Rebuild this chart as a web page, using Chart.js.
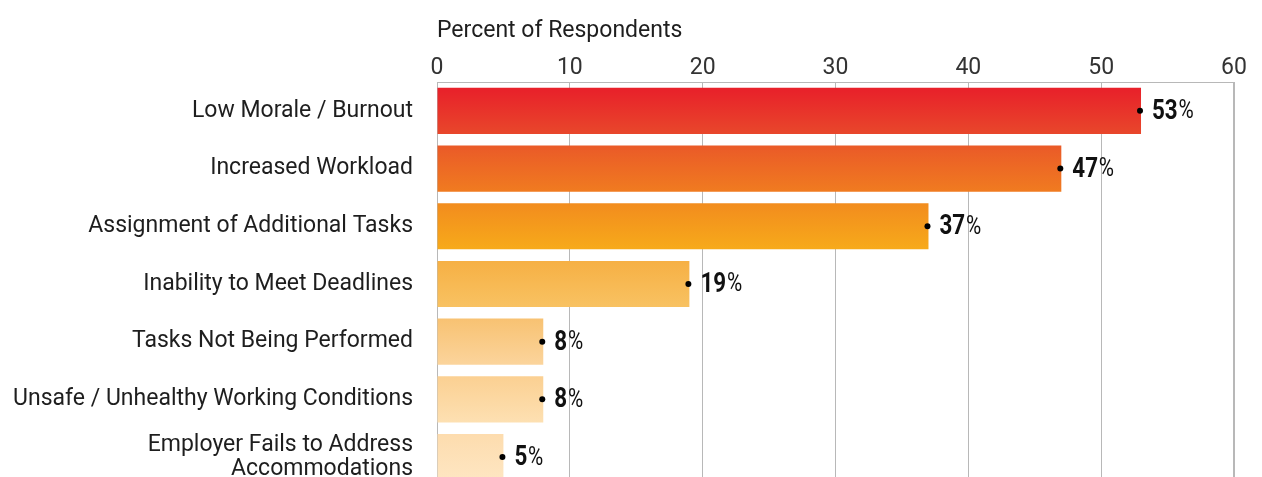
<!DOCTYPE html>
<html>
<head>
<meta charset="utf-8">
<script src="https://cdn.jsdelivr.net/npm/chart.js@4.4.1/dist/chart.umd.min.js"></script>
<style>
  html, body { margin: 0; padding: 0; background: #fff; overflow: hidden; }
  #wrap { width: 1262px; height: 522px; }
</style>
</head>
<body>
<div id="wrap"><canvas id="impact-chart" width="1262" height="522"></canvas></div>
<script>
const categories = [
    'Low Morale / Burnout',
    'Increased Workload',
    'Assignment of Additional Tasks',
    'Inability to Meet Deadlines',
    'Tasks Not Being Performed',
    'Unsafe / Unhealthy Working Conditions',
    ['Employer Fails to Address', 'Accommodations']
];
const percents = [53, 47, 37, 19, 8, 8, 5];
const topColors = ['#e8202a', '#ea5a28', '#f28c1e', '#f6b044', '#f8c272', '#fbd092', '#fddcae'];
const bottomColors = ['#e8472b', '#f07b20', '#f7aa1a', '#f8c262', '#fbd49c', '#fde0b2', '#fee6c2'];

const textColor = '#1e1e1e';
const gridColor = '#b8b8b8';

// vertical gradient per bar, from the band of each category
function barFill(context) {
    const chart = context.chart;
    const i = context.dataIndex;
    if (!chart.chartArea || !chart.scales.y) return topColors[i];
    const y = chart.scales.y;
    const center = y.getPixelForValue(i);
    const half = 23;
    const g = chart.ctx.createLinearGradient(0, center - half, 0, center + half);
    g.addColorStop(0, topColors[i]);
    g.addColorStop(1, bottomColors[i]);
    return g;
}

// dot at the end of each bar followed by the value, "%" in lighter weight
const valueLabels = {
    id: 'valueLabels',
    afterDatasetsDraw(chart) {
        const ctx = chart.ctx;
        const meta = chart.getDatasetMeta(0);
        ctx.save();
        meta.data.forEach((bar, i) => {
            const x = bar.x;
            const y = bar.y;
            ctx.fillStyle = '#000';
            ctx.beginPath();
            ctx.arc(x - 1, y, 3, 0, Math.PI * 2);
            ctx.fill();

            ctx.save();
            ctx.translate(x + 11, y);
            ctx.scale(0.8, 1);
            ctx.textBaseline = 'middle';
            ctx.textAlign = 'left';
            ctx.fillStyle = '#111';
            ctx.font = 'bold 28px Roboto';
            const num = String(percents[i]);
            ctx.fillText(num, 0, 1);
            const w = ctx.measureText(num).width;
            ctx.font = '26px Roboto';
            ctx.fillText('%', w + 1, 1);
            ctx.restore();
        });
        ctx.restore();
    }
};

new Chart(document.getElementById('impact-chart'), {
    type: 'bar',
    data: {
        labels: categories,
        datasets: [{
            data: percents,
            backgroundColor: barFill,
            borderWidth: 0,
            categoryPercentage: 1,
            barPercentage: 0.8
        }]
    },
    options: {
        indexAxis: 'y',
        responsive: false,
        animation: false,
        layout: { padding: { top: 0, right: 28, bottom: 6, left: 0 } },
        plugins: {
            legend: { display: false },
            tooltip: { enabled: false }
        },
        scales: {
            x: {
                position: 'top',
                min: 0,
                max: 60,
                z: 1,
                ticks: {
                    stepSize: 10,
                    padding: 2,
                    color: '#333',
                    font: { family: 'Roboto', size: 23, lineHeight: 1 }
                },
                grid: {
                    drawTicks: false,
                    color: gridColor,
                    lineWidth: c => (c.tick && c.tick.value === 60 ? 2 : 1)
                },
                border: { display: true, color: gridColor, width: 1 },
                title: {
                    display: true,
                    text: 'Percent of Respondents',
                    align: 'start',
                    color: textColor,
                    font: { family: 'Roboto', size: 23 },
                    padding: { top: 17, bottom: 0 }
                },
                afterFit(scale) { scale.height = 82; }
            },
            y: {
                grid: { display: false, drawTicks: false },
                border: { display: false },
                ticks: {
                    padding: 24,
                    color: textColor,
                    font: { family: 'Roboto', size: 23, lineHeight: 1.05 }
                },
                afterFit(scale) { scale.width = 437; }
            }
        }
    },
    plugins: [valueLabels]
});
</script>
</body>
</html>
